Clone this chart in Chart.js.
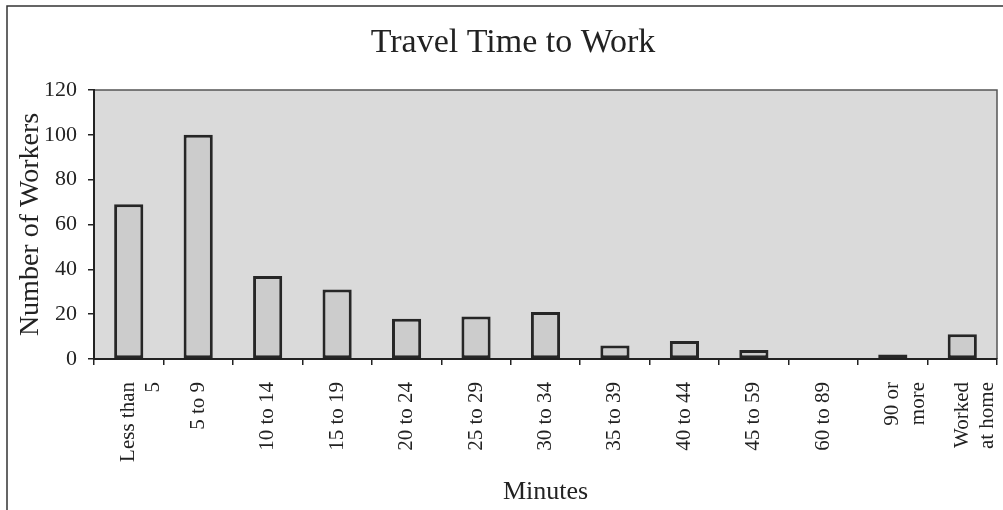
<!DOCTYPE html>
<html>
<head>
<meta charset="utf-8">
<title>Travel Time to Work</title>
<script src="https://cdn.jsdelivr.net/npm/chart.js@4"></script>
<style>
  html, body { margin: 0; padding: 0; background: #fff; overflow: hidden; }
  #wrap { width: 1003px; height: 510px; }
</style>
</head>
<body>
<div id="wrap"><canvas id="myChart" width="1003" height="510"></canvas></div>
<script>
const categories = [
    ['Less than', '5'], '5 to 9', '10 to 14', '15 to 19', '20 to 24', '25 to 29',
    '30 to 34', '35 to 39', '40 to 44', '45 to 59', '60 to 89', ['90 or', 'more'],
    ['Worked', 'at home']
];
const workers = [69, 100, 37, 31, 18, 19, 21, 6, 8, 4, 0, 2, 11];
const yTicks = [0, 20, 40, 60, 80, 100, 120];

Chart.defaults.font.family = '"Liberation Serif", "Times New Roman", serif';
Chart.defaults.color = '#222';

// grey plot background, frame lines round the figure and the plot box
const backdrop = {
    id: 'backdrop',
    beforeDraw(chart) {
        const { ctx, chartArea: a } = chart;
        ctx.save();
        ctx.fillStyle = '#fff';
        ctx.fillRect(0, 0, chart.width, chart.height);
        ctx.strokeStyle = '#333';
        ctx.lineWidth = 1.5;
        ctx.beginPath();
        ctx.moveTo(7, chart.height);
        ctx.lineTo(7, 6);
        ctx.lineTo(chart.width, 6);
        ctx.stroke();
        ctx.fillStyle = '#dadada';
        ctx.fillRect(a.left, a.top, a.right - a.left, a.bottom - a.top);
        ctx.strokeStyle = '#555';
        ctx.lineWidth = 1.5;
        ctx.beginPath();
        ctx.moveTo(a.left, a.top);
        ctx.lineTo(a.right, a.top);
        ctx.lineTo(a.right, a.bottom);
        ctx.stroke();
        ctx.restore();
    }
};

const ctx = document.getElementById('myChart').getContext('2d');
new Chart(ctx, {
    type: 'bar',
    data: {
        labels: categories,
        datasets: [{
            label: 'Number of Workers',
            data: workers,
            backgroundColor: '#cccccc',
            borderColor: '#262626',
            borderWidth: 3,
            borderSkipped: false,
            barPercentage: 0.42,
            categoryPercentage: 1.0
        }]
    },
    options: {
        responsive: false,
        animation: false,
        layout: { padding: { left: 29, right: 6, top: 0, bottom: 0 } },
        plugins: {
            legend: { display: false },
            tooltip: { enabled: false },
            title: {
                display: true,
                text: 'Travel Time to Work',
                color: '#222',
                font: { size: 34, weight: 'normal' },
                padding: { top: 23, bottom: 26.2 }
            }
        },
        scales: {
            x: {
                grid: { display: true, drawOnChartArea: false, offset: true, tickLength: 6, color: '#222', lineWidth: 1.5 },
                border: { display: true, color: '#222', width: 2 },
                ticks: { minRotation: 90, maxRotation: 90, padding: 17, font: { size: 21 }, color: '#222' },
                title: { display: true, text: 'Minutes', font: { size: 26 }, color: '#222', padding: { top: 0, bottom: 2 } },
                afterFit(scale) {
                    scale.height = 151;
                    scale.paddingLeft = 0;
                    scale.paddingRight = 0;
                }
            },
            y: {
                min: 0,
                max: 120,
                afterBuildTicks(scale) { scale.ticks = yTicks.map(v => ({ value: v })); },
                grid: { display: true, drawOnChartArea: false, tickLength: 6, color: '#222', lineWidth: 1.5 },
                border: { display: true, color: '#222', width: 2 },
                ticks: { padding: 11, font: { size: 22 }, color: '#222' },
                title: { display: true, text: 'Number of Workers', font: { size: 28 }, color: '#222', padding: { top: -14.8, bottom: 0 } },
                afterFit(scale) {
                    scale.width = 65;
                    scale.paddingTop = 0;
                    scale.paddingBottom = 0;
                }
            }
        }
    },
    plugins: [backdrop]
});
</script>
</body>
</html>
